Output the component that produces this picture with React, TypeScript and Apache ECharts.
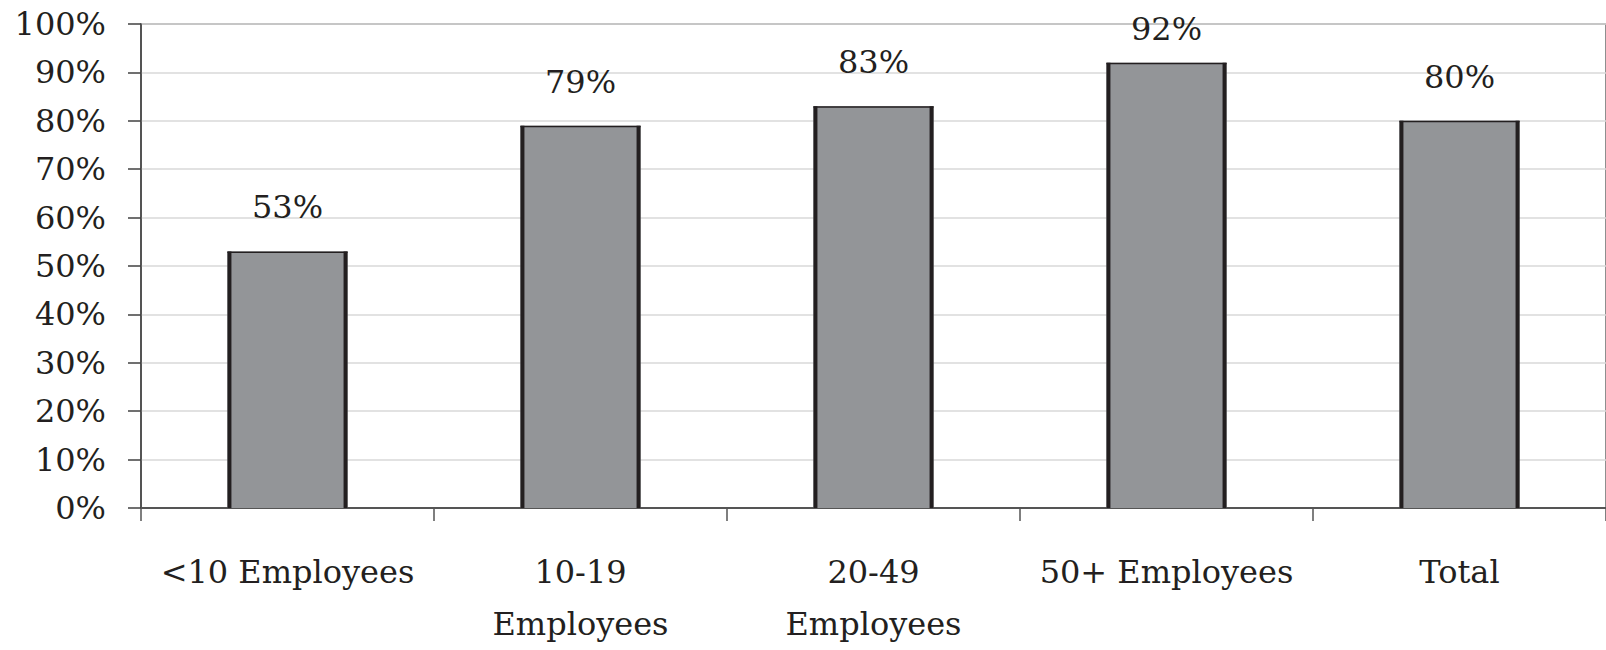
import React, { useEffect, useRef } from "react";
import * as echarts from "echarts";

const categories = ["<10 Employees", "10-19\nEmployees", "20-49\nEmployees", "50+ Employees", "Total"];
const values = [53, 79, 83, 92, 80];
const yTicks = { min: 0, max: 100, interval: 10 };

const FONT = '"DejaVu Serif", "Liberation Serif", serif';
const TEXT = "#231f20";

export default function App() {
  const ref = useRef<HTMLDivElement>(null);
  useEffect(() => {
    if (!ref.current) return;
    const chart = echarts.init(ref.current, null, { renderer: "svg" });
    chart.setOption({
      animation: false,
      backgroundColor: "#ffffff",
      grid: {
        left: 141,
        top: 24,
        width: 1485,
        height: 491,
        show: true,
        borderColor: "#6b6b6b",
        borderWidth: 1.5,
        backgroundColor: "transparent",
      },
      xAxis: {
        type: "category",
        data: categories,
        boundaryGap: true,
        axisLine: { show: true, lineStyle: { color: "#555555", width: 2 } },
        axisTick: { show: true, length: 13, alignWithLabel: false, lineStyle: { color: "#555555", width: 1.5 } },
        axisLabel: {
          interval: 0,
          color: TEXT,
          fontFamily: FONT,
          fontSize: 32,
          lineHeight: 52,
          margin: 38,
        },
      },
      yAxis: {
        type: "value",
        min: yTicks.min,
        max: yTicks.max,
        interval: yTicks.interval,
        axisLine: { show: true, lineStyle: { color: "#404040", width: 1.5 } },
        axisTick: { show: true, length: 13, lineStyle: { color: "#404040", width: 1.5 } },
        axisLabel: {
          formatter: "{value}%",
          color: TEXT,
          fontFamily: FONT,
          fontSize: 32,
          margin: 35,
        },
        splitLine: { show: true, lineStyle: { color: "#d9d9d9", width: 1.5 } },
      },
      series: [
        {
          type: "custom",
          data: values.map((v, i) => [i, v]),
          encode: { x: 0, y: 1 },
          renderItem: (params: any, api: any) => {
            const idx = api.value(0);
            const val = api.value(1);
            const top = api.coord([idx, val]);
            const base = api.coord([idx, 0]);
            const bw = api.size([1, 0])[0] * 0.41;
            const cx = top[0];
            const x0 = cx - bw / 2;
            const x1 = cx + bw / 2;
            return {
              type: "group",
              children: [
                {
                  type: "rect",
                  shape: { x: x0, y: top[1], width: bw, height: base[1] - top[1] },
                  style: { fill: "#939598" },
                },
                {
                  type: "line",
                  shape: { x1: x0 + 2, y1: top[1], x2: x0 + 2, y2: base[1] },
                  style: { stroke: "#231f20", lineWidth: 4 },
                },
                {
                  type: "line",
                  shape: { x1: x1 - 2, y1: top[1], x2: x1 - 2, y2: base[1] },
                  style: { stroke: "#231f20", lineWidth: 4 },
                },
                {
                  type: "line",
                  shape: { x1: x0, y1: top[1] + 0.75, x2: x1, y2: top[1] + 0.75 },
                  style: { stroke: "#231f20", lineWidth: 1.5 },
                },
                {
                  type: "text",
                  style: {
                    text: val + "%",
                    x: cx,
                    y: Math.max(top[1] - 44, 29),
                    align: "center",
                    verticalAlign: "middle",
                    fill: TEXT,
                    font: "32px " + FONT,
                  },
                },
              ],
            };
          },
        },
      ],
    });
    return () => chart.dispose();
  }, []);
  return (
    <div
      ref={ref}
      style={{ position: "fixed", left: 0, top: 0, width: 1606, height: 650 }}
    />
  );
}
